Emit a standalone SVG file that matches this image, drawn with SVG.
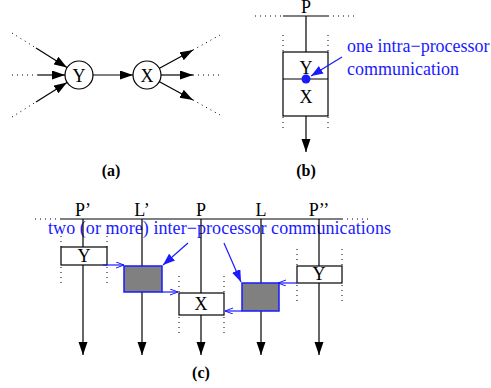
<svg xmlns="http://www.w3.org/2000/svg" width="491" height="388" viewBox="0 0 491 388" font-family="'Liberation Serif', 'Times New Roman', 'DejaVu Serif', serif">
<style>
text{font-family:'Liberation Serif','Times New Roman','DejaVu Serif',serif;fill:#000}
.t{font-size:18px;text-anchor:middle}
.lab{font-size:16px;font-weight:bold;text-anchor:middle}
.blue{fill:#1a1aff;font-size:18px}
.ln{stroke:#000;stroke-width:1.2;fill:none}
.dot{stroke:#000;stroke-width:1;stroke-dasharray:1,4;fill:none}
.bx{fill:#fff;stroke:#000;stroke-width:1.2}
.gb{fill:#808080;stroke:#1a1aff;stroke-width:1.5}
.bl{stroke:#1a1aff;stroke-width:1.2;fill:none}
</style>
<defs>
<marker id="ah" markerUnits="userSpaceOnUse" markerWidth="14" markerHeight="10" refX="13" refY="4.5" orient="auto"><path d="M0,0 L13,4.5 L0,9 z" fill="#000"/></marker>
<marker id="bh" markerUnits="userSpaceOnUse" markerWidth="14" markerHeight="10" refX="12" refY="4.5" orient="auto"><path d="M0,0 L12,4.5 L0,9 z" fill="#1a1aff"/></marker>
<marker id="bo" markerUnits="userSpaceOnUse" markerWidth="10" markerHeight="8" refX="8" refY="3" orient="auto"><path d="M0,0 L8,3 L0,6" fill="none" stroke="#1a1aff" stroke-width="1"/></marker>
</defs>

<!-- (a) -->
<g id="connectors-a">
<line class="dot" x1="12" y1="33" x2="36" y2="48"/>
<line class="ln" x1="36" y1="48" x2="67" y2="67.5" marker-end="url(#ah)"/>
<line class="dot" x1="12" y1="75" x2="38" y2="75"/>
<line class="ln" x1="38" y1="75" x2="65" y2="75" marker-end="url(#ah)"/>
<line class="dot" x1="12" y1="117" x2="36" y2="102"/>
<line class="ln" x1="36" y1="102" x2="67" y2="82.5" marker-end="url(#ah)"/>
<line class="ln" x1="93" y1="75" x2="133" y2="75" marker-end="url(#ah)"/>
<line class="ln" x1="159" y1="68.5" x2="193" y2="50" marker-end="url(#ah)"/>
<line class="dot" x1="193" y1="50" x2="220" y2="35"/>
<line class="ln" x1="161" y1="75" x2="193" y2="75" marker-end="url(#ah)"/>
<line class="dot" x1="193" y1="75" x2="220" y2="75"/>
<line class="ln" x1="159" y1="81.5" x2="193" y2="100" marker-end="url(#ah)"/>
<line class="dot" x1="193" y1="100" x2="220" y2="115"/>
</g>
<g id="a-Y"><circle cx="79" cy="75" r="14" class="bx"/><text class="t" x="79" y="81.5">Y</text></g>
<g id="a-X"><circle cx="147" cy="75" r="14" class="bx"/><text class="t" x="147" y="81.5">X</text></g>
<text class="lab" x="111" y="176">(a)</text>

<!-- (b) -->
<g id="b-proc">
<text class="t" x="306" y="13">P</text>
<line class="dot" x1="255" y1="16" x2="283" y2="16"/>
<line class="ln" x1="283" y1="16" x2="328" y2="16"/>
<line class="dot" x1="328" y1="16" x2="357" y2="16"/>
<line class="ln" x1="306" y1="16" x2="306" y2="52"/>
<line class="dot" x1="283" y1="35" x2="283" y2="52"/>
<line class="dot" x1="328" y1="35" x2="328" y2="52"/>
<line class="dot" x1="283" y1="117" x2="283" y2="131"/>
<line class="dot" x1="328" y1="117" x2="328" y2="131"/>
<line class="ln" x1="306" y1="116" x2="306" y2="152" marker-end="url(#ah)"/>
</g>
<g id="b-box">
<rect x="283" y="52" width="45" height="64" class="bx"/>
<line class="ln" x1="283" y1="79" x2="328" y2="79"/>
<text class="t" x="306" y="74">Y</text>
<text class="t" x="306" y="103">X</text>
<circle cx="306" cy="79" r="4.5" fill="#1a1aff"/>
</g>
<g id="b-note">
<text class="blue" x="347" y="52">one intra−processor</text>
<text class="blue" x="347" y="75">communication</text>
<line class="bl" x1="342" y1="57" x2="311" y2="76" marker-end="url(#bh)"/>
</g>
<text class="lab" x="306" y="176">(b)</text>

<!-- (c) -->
<g id="c-header">
<text class="t" x="83" y="216">P’</text>
<text class="t" x="142" y="216">L’</text>
<text class="t" x="201" y="216">P</text>
<text class="t" x="261" y="216">L</text>
<text class="t" x="319" y="216">P’’</text>
<line class="dot" x1="35" y1="219" x2="60" y2="219"/>
<line class="ln" x1="60" y1="219" x2="342" y2="219"/>
<line class="dot" x1="342" y1="219" x2="372" y2="219"/>
</g>
<text class="blue" x="48" y="234" textLength="343">two (or more) inter−processor communications</text>
<g id="c-lines">
<line class="ln" x1="83" y1="219" x2="83" y2="355" marker-end="url(#ah)"/>
<line class="ln" x1="142" y1="219" x2="142" y2="355" marker-end="url(#ah)"/>
<line class="ln" x1="201" y1="219" x2="201" y2="355" marker-end="url(#ah)"/>
<line class="ln" x1="261" y1="219" x2="261" y2="355" marker-end="url(#ah)"/>
<line class="ln" x1="319" y1="219" x2="319" y2="355" marker-end="url(#ah)"/>
<line class="dot" x1="61" y1="236" x2="61" y2="247"/>
<line class="dot" x1="107" y1="236" x2="107" y2="247"/>
<line class="dot" x1="61" y1="267" x2="61" y2="286"/>
<line class="dot" x1="107" y1="267" x2="107" y2="286"/>
<line class="dot" x1="179" y1="276" x2="179" y2="293"/>
<line class="dot" x1="224" y1="276" x2="224" y2="293"/>
<line class="dot" x1="179" y1="317" x2="179" y2="336"/>
<line class="dot" x1="224" y1="317" x2="224" y2="336"/>
<line class="dot" x1="297" y1="249" x2="297" y2="266"/>
<line class="dot" x1="342" y1="249" x2="342" y2="266"/>
<line class="dot" x1="297" y1="285" x2="297" y2="304"/>
<line class="dot" x1="342" y1="285" x2="342" y2="304"/>
</g>
<g id="c-Y1"><rect x="61" y="247" width="46" height="18" class="bx"/><text class="t" x="84" y="262">Y</text></g>
<g id="c-Lp"><rect x="124" y="266" width="38" height="26" class="gb"/></g>
<g id="c-X"><rect x="179" y="293" width="45" height="22" class="bx"/><text class="t" x="201" y="310">X</text></g>
<g id="c-L"><rect x="242" y="283" width="37" height="28" class="gb"/></g>
<g id="c-Y2"><rect x="297" y="266" width="45" height="17" class="bx"/><text class="t" x="319" y="280">Y</text></g>
<g id="c-comms">
<polyline class="bl" points="103,265 124,265" marker-end="url(#bo)"/>
<polyline class="bl" points="162,292 178,292" marker-end="url(#bo)"/>
<polyline class="bl" points="297,283 278,283" marker-end="url(#bo)"/>
<polyline class="bl" points="242,311 225,311" marker-end="url(#bo)"/>
<line class="bl" x1="188" y1="243" x2="163" y2="265" marker-end="url(#bh)"/>
<line class="bl" x1="224" y1="243" x2="241" y2="282" marker-end="url(#bh)"/>
</g>
<text class="lab" x="201" y="378">(c)</text>
</svg>
